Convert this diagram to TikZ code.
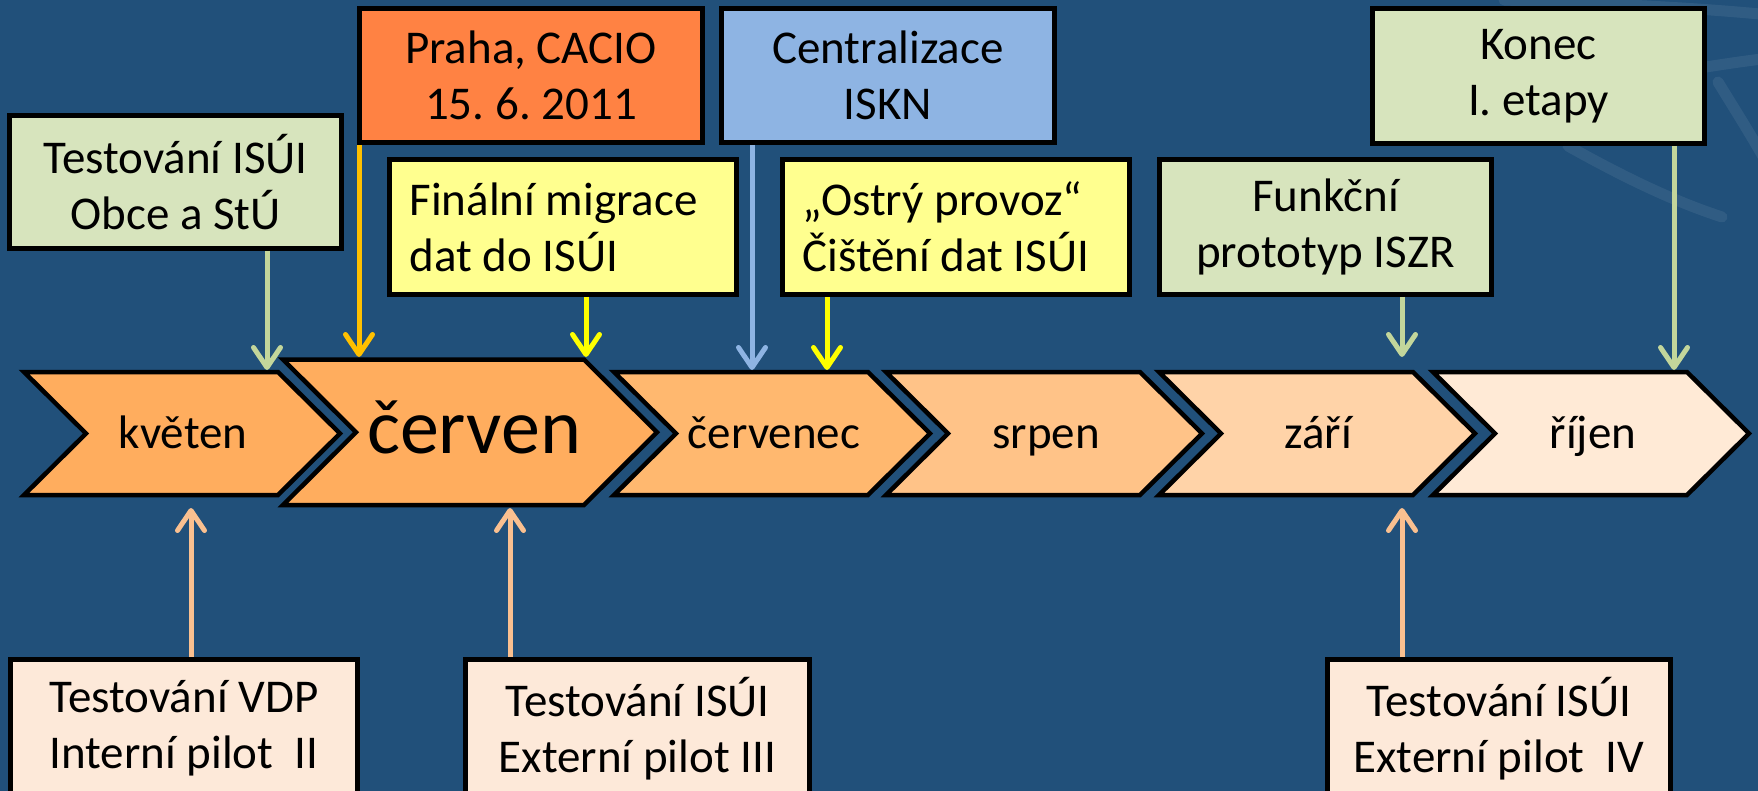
\documentclass[tikz,border=0pt]{standalone}
\usepackage{fontspec}
\setmainfont{Carlito}
\frenchspacing
\usetikzlibrary{arrows.meta}
\definecolor{bg}{HTML}{21507A}
\definecolor{grbox}{HTML}{D7E4BD}
\definecolor{grarr}{HTML}{C3D69B}
\definecolor{orbox}{HTML}{FF8243}
\definecolor{goldarr}{HTML}{FFC000}
\definecolor{blbox}{HTML}{8EB4E3}
\definecolor{ylbox}{HTML}{FFFF8F}
\definecolor{ylarr}{HTML}{FFFF00}
\definecolor{pkbox}{HTML}{FDE9D9}
\definecolor{pkarr}{HTML}{FAC090}
\definecolor{chA}{HTML}{FFAD5E}
\definecolor{chB}{HTML}{FFB86F}
\definecolor{chC}{HTML}{FFC388}
\definecolor{chD}{HTML}{FFD3A8}
\definecolor{chE}{HTML}{FFEAD6}
\newcommand\boxfont{\fontsize{47}{56}\selectfont\frenchspacing}
\newcommand\bigfont{\fontsize{78}{88}\selectfont}
\newcommand\mychev[6]{% L, top, bottom, body, depth, colour
  \draw[chev, fill=#6] (#1,#2) -- ++(#4,0) -- ++(#5,{(#3-#2)/2}) -- ++(-#5,{(#3-#2)/2})
    -- ++(-#4,0) -- ++(#5,{-(#3-#2)/2}) -- cycle;}
\tikzset{
  box/.style={draw=black, line width=5pt, inner sep=0pt, align=center, font=\boxfont, text=black},
  lbox/.style={box, align=flush left, inner xsep=20pt, text width=307pt},
  chev/.style={draw=black, line width=4.5pt, line join=miter},
  month/.style={font=\boxfont, text=black, inner sep=0pt, anchor=base},
  arr/.style={line width=5pt, line cap=butt,
    -{Straight Barb[length=20pt, width=27pt, round]}},
  wm/.style={white, opacity=0.07, line width=11pt, line cap=round}
}
\begin{document}
\begin{tikzpicture}[x=1pt, y=-1pt]
\useasboundingbox (0,0) rectangle (1758,791);
\fill[bg] (0,0) rectangle (1758,791);
\clip (0,0) rectangle (1758,791);
% faint watermark
\draw[wm] (1504,0) .. controls (1580,3) and (1680,6) .. (1770,15);
\draw[wm] (1568,146) .. controls (1620,175) and (1670,200) .. (1722,217);
\draw[wm] (1706,67) .. controls (1725,64) and (1745,61) .. (1770,58);
\draw[wm] (1718,82) .. controls (1732,105) and (1748,130) .. (1765,160);
% chevrons
\mychev{24}{372}{495}{254}{62}{chA}
\mychev{283}{359.5}{505}{301}{73}{chA}
\mychev{614}{372}{495}{254}{62}{chB}
\mychev{886}{372}{495}{254}{62}{chC}
\mychev{1159}{372}{495}{254}{62}{chD}
\mychev{1433}{372}{495}{254}{62}{chE}
\node[month] (kveten) at (183,448) {květen};
\node[month, font=\bigfont] (cerven) at (474,453) {červen};
\node[month] (cervenec) at (774,448) {červenec};
\node[month] (srpen) at (1046,448) {srpen};
\node[month] (zari) at (1318,448) {září};
\node[month] (rijen) at (1593,448) {říjen};
% arrow end points on the chevrons
\coordinate (t1) at (267,370);
\coordinate (t2) at (359,357);
\coordinate (t3) at (586,357);
\coordinate (t4) at (752,370);
\coordinate (t5) at (827,370);
\coordinate (t6) at (1402,357);
\coordinate (t7) at (1674,370);
\coordinate (b1) at (191,508);
\coordinate (b2) at (510,508);
\coordinate (b3) at (1402,508);
% top boxes
\node[box, fill=grbox, minimum width=332, minimum height=133] (A) at (175.5,182) {Testování ISÚI\\Obce a StÚ};
\node[box, fill=orbox, minimum width=343, minimum height=134] (B) at (531,75.5) {Praha, CACIO\\15. 6. 2011};
\node[box, fill=blbox, minimum width=333, minimum height=134] (C) at (888,75.5) {Centralizace\\ISKN};
\node[lbox, fill=ylbox, minimum height=135] (D) at (563,227) {Finální migrace\\dat do ISÚI};
\node[lbox, fill=ylbox, minimum height=135] (E) at (956,227) {„Ostrý provoz“\\Čištění dat ISÚI};
\node[box, fill=grbox, minimum width=332, minimum height=135] (F) at (1325.5,227) {Funkční\\prototyp ISZR};
\node[box, fill=grbox, minimum width=332, minimum height=135] (G) at (1538.5,76) {Konec\\I. etapy};
% bottom boxes
\node[box, fill=pkbox, minimum width=347, minimum height=138] (H) at (184,728.5) {Testování VDP\\Interní pilot~~II};
\node[box, fill=pkbox, minimum width=344, minimum height=138] (I) at (637.5,728.5) {Testování ISÚI\\Externí pilot III};
\node[box, fill=pkbox, minimum width=343, minimum height=138] (J) at (1499,728.5) {Testování ISÚI\\Externí pilot~~IV};
% connectors
\draw[arr, grarr] (A.south -| t1) -- (t1);
\draw[arr, goldarr] (B.south -| t2) -- (t2);
\draw[arr, ylarr] (D.south -| t3) -- (t3);
\draw[arr, blbox] (C.south -| t4) -- (t4);
\draw[arr, ylarr] (E.south -| t5) -- (t5);
\draw[arr, grarr] (F.south -| t6) -- (t6);
\draw[arr, grarr] (G.south -| t7) -- (t7);
\draw[arr, pkarr] (H.north -| b1) -- (b1);
\draw[arr, pkarr] (I.north -| b2) -- (b2);
\draw[arr, pkarr] (J.north -| b3) -- (b3);
\end{tikzpicture}
\end{document}
